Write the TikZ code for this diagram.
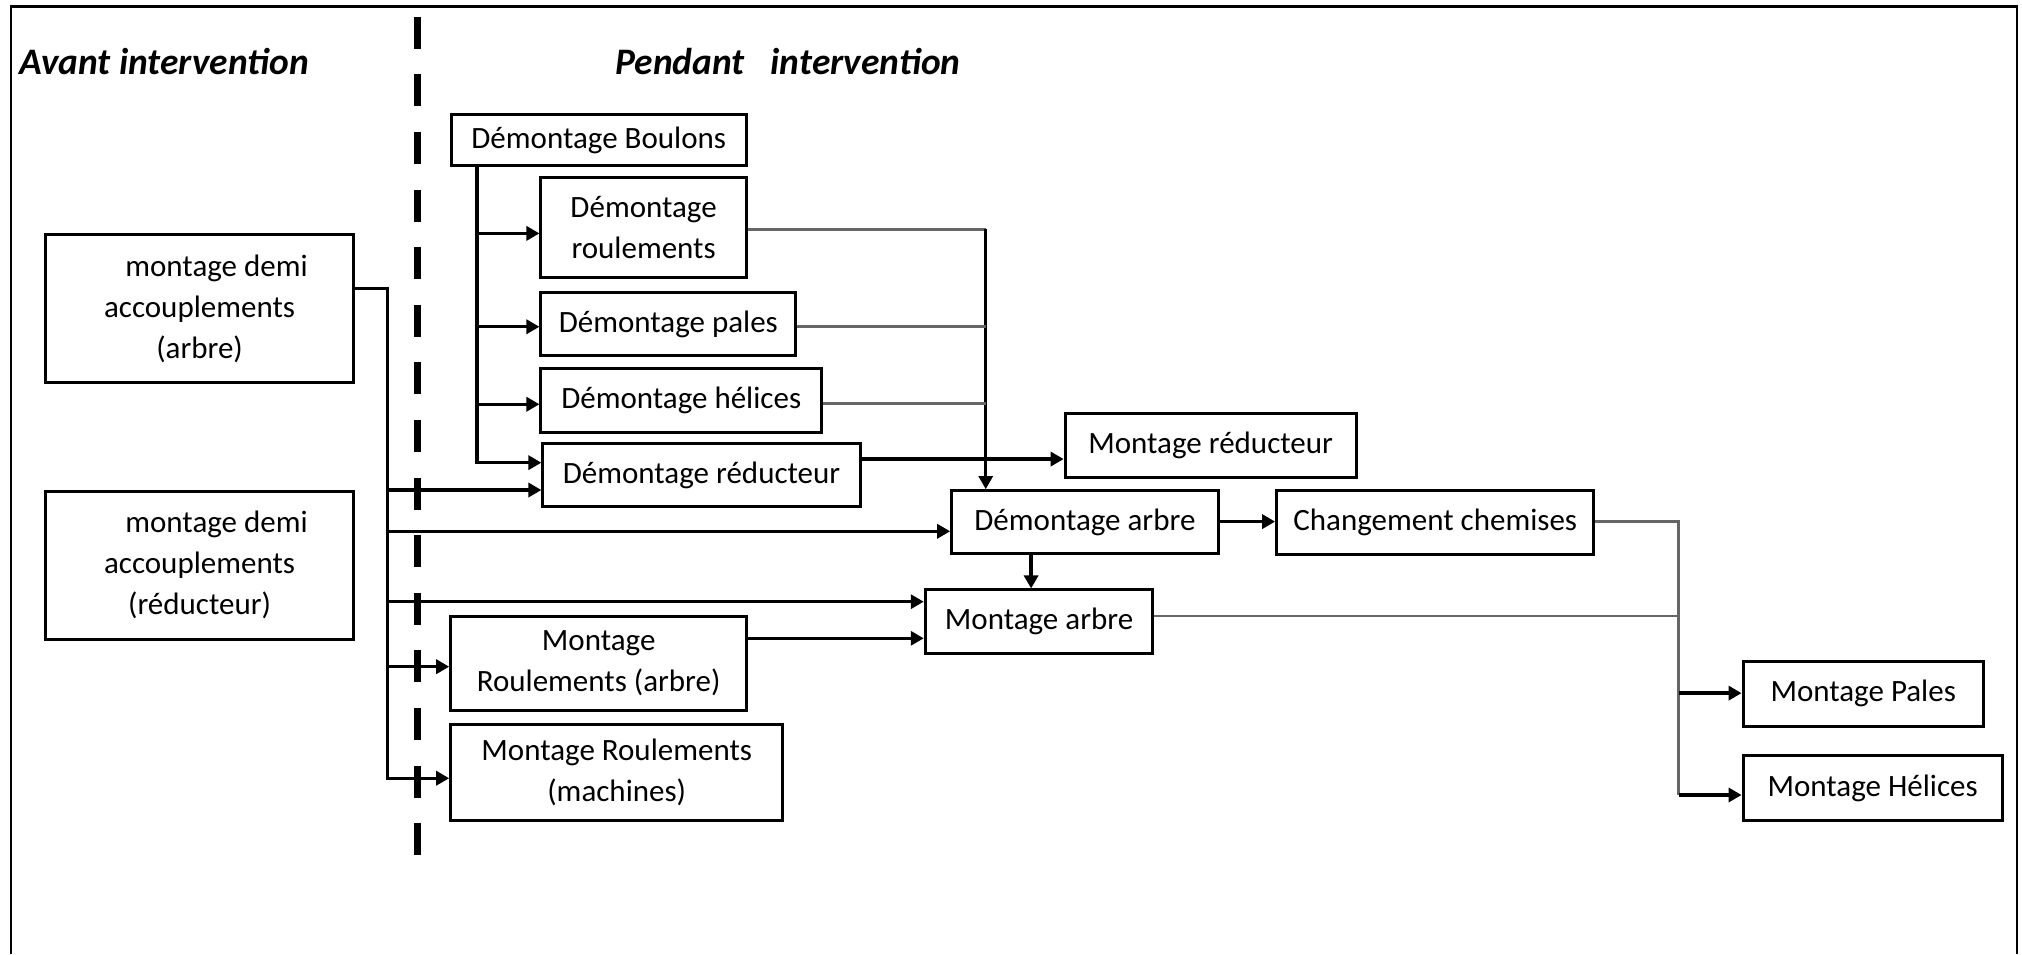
\documentclass[tikz,border=0pt]{standalone}
\usepackage{fontspec}
\setmainfont{Carlito}
\usetikzlibrary{arrows.meta}
\newlength\uu
\setlength\uu{0.6447pt}
\tikzset{
  bx/.style={draw, line width=1.5pt, inner sep=0pt, align=center,
    font=\fontsize{15.5}{20.5}\selectfont},
  sz/.style 2 args={minimum width=#1*\uu, minimum height=#2*\uu},
  head/.style={inner sep=0pt, anchor=west, font=\fontsize{18.7}{22}\selectfont\bfseries\itshape},
  blk/.style={line width=1.7pt, draw=black},
  mid/.style={line width=1.4pt, draw=black},
  gry/.style={line width=1.4pt, draw=black!60},
  arr/.style={-{Triangle[length=6.5pt,width=7pt]}},
  sepline/.style={line width=3.6pt, dash pattern=on 16pt off 12.8pt},
  framepath/.style={line width=1.3pt}
}
\begin{document}
\begin{tikzpicture}[x=\uu, y=-\uu]
\useasboundingbox (0,0) rectangle (1568,740);

% frame and separator
\coordinate (fbl) at (8.5,740);
\coordinate (ftl) at (8.5,5.2);
\coordinate (ftr) at (1564,5.2);
\coordinate (fbr) at (1564,740);
\draw[framepath] (fbl) -- (ftl) -- (ftr) -- (fbr);
\coordinate (dtop) at (323.5,13);
\coordinate (dbot) at (323.5,663);
\draw[sepline] (dtop) -- (dbot);

% headings
\node[head] (avant) at (15,47.8) {Avant intervention};
\node[head] (pendant) at (477,47.8) {Pendant\hspace{13pt}intervention};

% boxes
\node[bx, sz={228.7}{39}]    (boulons)   at (464.3,108.5)  {Démontage Boulons};
\node[bx, sz={159.2}{77.5}]  (roul)      at (499.1,176.25) {Démontage\\roulements};
\node[bx, sz={197.5}{49}]    (pales)     at (518.25,251.5) {Démontage pales};
\node[bx, sz={217.5}{49.7}]  (helices)   at (528.25,310.85){Démontage hélices};
\node[bx, sz={246}{49}]      (dreduc)    at (544,368.5)    {Démontage réducteur};
\node[bx, sz={225.6}{49}]    (mreduc)    at (938.8,345.5)  {Montage réducteur};
\node[bx, sz={206.6}{49}]    (darbre)    at (841.3,405)    {Démontage arbre};
\node[bx, sz={246}{50}]      (chem)      at (1113,405)     {Changement chemises};
\node[bx, sz={176.5}{49}]    (marbre)    at (805.75,482)   {Montage arbre};
\node[bx, sz={229.5}{72.6}]  (mroularb)  at (464.25,514.3) {Montage\\Roulements (arbre)};
\node[bx, sz={257.5}{74.5}]  (mroulmach) at (478.25,598.75){Montage Roulements\\(machines)};
\node[bx, sz={239.5}{115}]   (demiarb)   at (154.75,239.5) {\hspace*{17pt}montage demi\\accouplements\\(arbre)};
\node[bx, sz={239.5}{114.6}] (demired)   at (154.75,438.3) {\hspace*{17pt}montage demi\\accouplements\\(réducteur)};
\node[bx, sz={186.3}{50}]    (mpales)    at (1444.85,538)  {Montage Pales};
\node[bx, sz={200.9}{50}]    (mhelices)  at (1452.15,611)  {Montage Hélices};

% trunk x positions
\coordinate (bx) at (370,0);
\coordinate (tx) at (300.7,0);
\coordinate (vx) at (764.4,0);
\coordinate (rx) at (1301.7,0);
\coordinate (dx) at (799.6,0);

% levels
\coordinate (yRo) at (0,181);
\coordinate (yPa) at (0,253.4);
\coordinate (yHe) at (0,313.5);
\coordinate (yDr) at (0,358.8);
\coordinate (yA)  at (0,223.5);
\coordinate (yT1) at (0,380);
\coordinate (yT2) at (0,412);
\coordinate (yT3) at (0,466.6);
\coordinate (yT4) at (0,517);
\coordinate (yT5) at (0,603.5);
\coordinate (yRoOut) at (0,177.7);
\coordinate (yPaOut) at (0,253.3);
\coordinate (yHeOut) at (0,312.6);
\coordinate (yDrOut) at (0,356);
\coordinate (yDA) at (0,404.5);
\coordinate (yMR) at (0,495);
\coordinate (yMA) at (0,477.7);
\coordinate (yMP) at (0,537.5);
\coordinate (yMH) at (0,616.5);

% Boulons branches
\draw[blk,arr] (boulons.south -| bx) |- (dreduc.west |- yDr);
\draw[blk,arr] (bx |- yRo) -- (roul.west |- yRo);
\draw[blk,arr] (bx |- yPa) -- (pales.west |- yPa);
\draw[blk,arr] (bx |- yHe) -- (helices.west |- yHe);

% demi accouplements (arbre) branches
\draw[blk,arr] (demiarb.east |- yA) -| (tx |- yT5) -- (mroulmach.west |- yT5);
\draw[blk,arr] (tx |- yT1) -- (dreduc.west |- yT1);
\draw[blk,arr] (tx |- yT2) -- (darbre.west |- yT2);
\draw[blk,arr] (tx |- yT3) -- (marbre.west |- yT3);
\draw[blk,arr] (tx |- yT4) -- (mroularb.west |- yT4);

% collecting into Démontage arbre
\draw[gry] (roul.east |- yRoOut) -- (vx |- yRoOut);
\draw[mid,arr] (vx |- yRoOut) -- (darbre.north -| vx);
\draw[gry] (pales.east |- yPaOut) -- (vx |- yPaOut);
\draw[gry] (helices.east |- yHeOut) -- (vx |- yHeOut);

\draw[blk,arr] (dreduc.east |- yDrOut) -- (mreduc.west |- yDrOut);
\draw[blk,arr] (darbre.east |- yDA) -- (chem.west |- yDA);
\draw[blk,arr] (darbre.south -| dx) -- (marbre.north -| dx);
\draw[blk,arr] (mroularb.east |- yMR) -- (marbre.west |- yMR);

% to Montage Pales / Hélices
\draw[gry] (chem.east |- yDA) -| (rx |- yMH);
\draw[gry] (marbre.east |- yMA) -- (rx |- yMA);
\draw[blk,arr] (rx |- yMP) -- (mpales.west |- yMP);
\draw[blk,arr] (rx |- yMH) -- (mhelices.west |- yMH);
\end{tikzpicture}
\end{document}
